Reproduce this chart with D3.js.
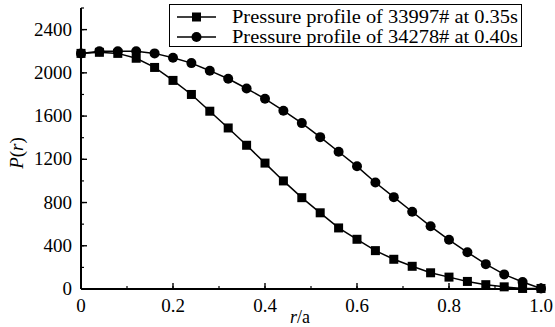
<!DOCTYPE html>
<html>
<head>
<meta charset="utf-8">
<script src="https://cdn.jsdelivr.net/npm/d3@7"></script>
<style>
  html, body { margin: 0; padding: 0; background: #fff; }
  svg { display: block; }
</style>
</head>
<body>
<div id="chart"></div>
<script>
// Data
const rValues = [0, 0.04, 0.08, 0.12, 0.16, 0.2, 0.24, 0.28, 0.32, 0.36, 0.4, 0.44, 0.48,
                 0.52, 0.56, 0.6, 0.64, 0.68, 0.72, 0.76, 0.8, 0.84, 0.88, 0.92, 0.96, 1.0];
const p33997 = [2180, 2190, 2180, 2135, 2050, 1930, 1800, 1645, 1490, 1330, 1165, 1000, 845,
                705, 565, 460, 355, 275, 210, 150, 110, 70, 40, 20, 5, 5];
const p34278 = [2180, 2200, 2200, 2200, 2180, 2140, 2090, 2020, 1945, 1855, 1760, 1650, 1535,
                1405, 1270, 1135, 985, 850, 715, 580, 455, 340, 230, 135, 65, 5];
const seriesNames = ["Pressure profile of 33997# at 0.35s", "Pressure profile of 34278# at 0.40s"];
const xTicks = [0, 0.2, 0.4, 0.6, 0.8, 1.0];
const xTickLabels = ["0", "0.2", "0.4", "0.6", "0.8", "1.0"];
const yTicks = [0, 400, 800, 1200, 1600, 2000, 2400];

const serif = "'Liberation Serif'";

// Setup
const width = 555, height = 327;
const svg = d3.select("#chart").append("svg")
    .attr("width", width)
    .attr("height", height);

const x = d3.scaleLinear().domain([0, 1]).range([81, 541]);
const y = d3.scaleLinear().domain([0, 2600]).range([289, 8]);

// Axes (ticks pointing inward)
const xAxis = svg.append("g").attr("transform", `translate(0,${y(0)})`);
xAxis.append("line")
    .attr("x1", x(0)).attr("x2", x(1))
    .attr("stroke", "#000").attr("stroke-width", 2);
xAxis.selectAll(".xminor").data(d3.range(0, 11).map(i => i / 10))
    .enter().append("line")
    .attr("x1", d => x(d)).attr("x2", d => x(d))
    .attr("y1", 0).attr("y2", -3)
    .attr("stroke", "#000").attr("stroke-width", 1.2);
xAxis.selectAll(".xmajor").data(xTicks)
    .enter().append("line")
    .attr("x1", d => x(d)).attr("x2", d => x(d))
    .attr("y1", 0).attr("y2", -6)
    .attr("stroke", "#000").attr("stroke-width", 1.4);
xAxis.selectAll(".xlabel").data(xTicks)
    .enter().append("text")
    .attr("x", d => x(d))
    .attr("y", 23)
    .attr("text-anchor", "middle")
    .attr("font-family", serif)
    .attr("font-size", 19)
    .text((d, i) => xTickLabels[i]);

const yAxis = svg.append("g").attr("transform", `translate(${x(0)},0)`);
yAxis.append("line")
    .attr("y1", y(0)).attr("y2", y(2600))
    .attr("stroke", "#000").attr("stroke-width", 2);
yAxis.selectAll(".yminor").data(d3.range(0, 14).map(i => i * 200))
    .enter().append("line")
    .attr("y1", d => y(d)).attr("y2", d => y(d))
    .attr("x1", 0).attr("x2", 3)
    .attr("stroke", "#000").attr("stroke-width", 1.2);
yAxis.selectAll(".ymajor").data(yTicks)
    .enter().append("line")
    .attr("y1", d => y(d)).attr("y2", d => y(d))
    .attr("x1", 0).attr("x2", 6)
    .attr("stroke", "#000").attr("stroke-width", 1.4);
yAxis.selectAll(".ylabel").data(yTicks)
    .enter().append("text")
    .attr("x", -9)
    .attr("y", d => y(d) + 6)
    .attr("text-anchor", "end")
    .attr("font-family", serif)
    .attr("font-size", 19)
    .text(d => d);

// Axis titles
const yTitle = svg.append("text")
    .attr("transform", "translate(23,153) rotate(-90)")
    .attr("text-anchor", "middle")
    .attr("font-family", serif)
    .attr("font-size", 19);
yTitle.append("tspan").attr("font-style", "italic").text("P");
yTitle.append("tspan").text("(");
yTitle.append("tspan").attr("font-style", "italic").text("r");
yTitle.append("tspan").text(")");

const xTitle = svg.append("text")
    .attr("x", 300).attr("y", 323)
    .attr("text-anchor", "middle")
    .attr("font-family", serif)
    .attr("font-size", 18);
xTitle.append("tspan").attr("font-style", "italic").text("r");
xTitle.append("tspan").text("/a");

// Lines
const line = d3.line()
    .x((d, i) => x(rValues[i]))
    .y(d => y(d));

const squareSize = 9;
const circleR = 5;

svg.append("path").datum(p33997)
    .attr("d", line)
    .attr("fill", "none").attr("stroke", "#000").attr("stroke-width", 1.5);
svg.append("path").datum(p34278)
    .attr("d", line)
    .attr("fill", "none").attr("stroke", "#000").attr("stroke-width", 1.5);

svg.selectAll(".sq").data(p33997)
    .enter().append("rect")
    .attr("x", (d, i) => x(rValues[i]) - squareSize / 2)
    .attr("y", d => y(d) - squareSize / 2)
    .attr("width", squareSize).attr("height", squareSize)
    .attr("fill", "#000");
svg.selectAll(".ci").data(p34278)
    .enter().append("circle")
    .attr("cx", (d, i) => x(rValues[i]))
    .attr("cy", d => y(d))
    .attr("r", circleR)
    .attr("fill", "#000");

// Legend
const legend = svg.append("g");
legend.append("rect")
    .attr("x", 169.5).attr("y", 4.5)
    .attr("width", 352).attr("height", 42)
    .attr("fill", "#fff").attr("stroke", "#000").attr("stroke-width", 1);

seriesNames.forEach((name, i) => {
    const ly = 17 + i * 20;
    legend.append("line")
        .attr("x1", 177).attr("x2", 216)
        .attr("y1", ly).attr("y2", ly)
        .attr("stroke", "#000").attr("stroke-width", 1.5);
    if (i === 0) {
        legend.append("rect")
            .attr("x", 196.5 - squareSize / 2).attr("y", ly - squareSize / 2)
            .attr("width", squareSize).attr("height", squareSize)
            .attr("fill", "#000");
    } else {
        legend.append("circle")
            .attr("cx", 196.5).attr("cy", ly).attr("r", circleR)
            .attr("fill", "#000");
    }
    legend.append("text")
        .attr("x", 232).attr("y", ly + 6)
        .attr("textLength", 286)
        .attr("lengthAdjust", "spacingAndGlyphs")
        .attr("font-family", serif)
        .attr("font-size", 19)
        .text(name);
});
</script>
</body>
</html>
